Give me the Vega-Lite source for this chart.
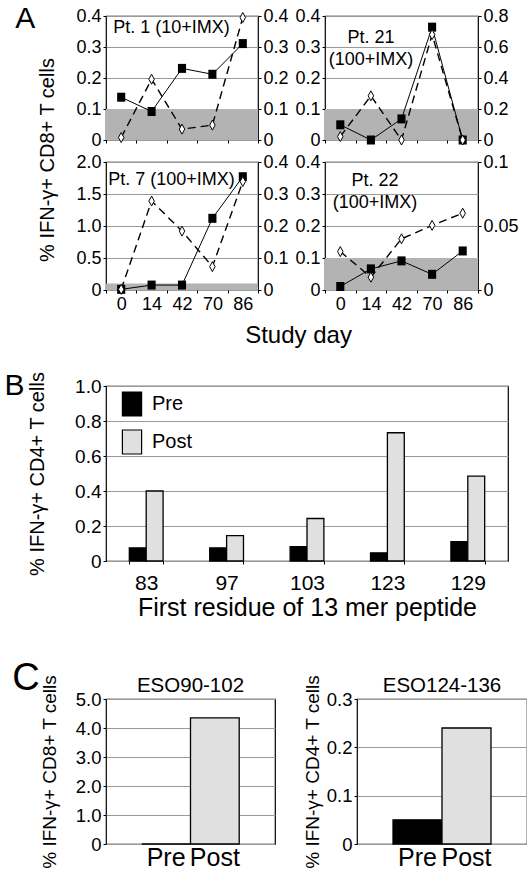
{
"$schema": "https://vega.github.io/schema/vega-lite/v6.json",
"padding": {"left": 3, "top": 4, "right": 0, "bottom": 1},
"config": {
  "font": "Liberation Sans",
  "view": {"stroke": "black", "strokeWidth": 1.2},
  "axis": {"labelColor": "black", "labelFontSize": 18, "tickColor": "black", "domainColor": "black", "gridColor": "#9a9a9a", "gridWidth": 1, "titleColor": "black", "titleFontWeight": "normal", "titleFontSize": 20, "labelPadding": 2, "tickSize": 3, "labelOverlap": false},
  "title": {"color": "black", "fontWeight": "normal", "fontSize": 20},
  "text": {"font": "Liberation Sans", "fontSize": 18, "color": "black"},
  "legend": {"labelColor": "black"}
},
"datasets": {
  "band": [{"lo": 0, "hi": 0.1}],
  "p1": [{"day": 0, "sq": 0.138, "di": 0.008}, {"day": 14, "sq": 0.092, "di": 0.196}, {"day": 42, "sq": 0.231, "di": 0.035}, {"day": 70, "sq": 0.212, "di": 0.048}, {"day": 86, "sq": 0.311, "di": 0.395}],
  "p21": [{"day": 0, "sq": 0.049, "di": 0.022}, {"day": 14, "sq": 0.0, "di": 0.285}, {"day": 42, "sq": 0.068, "di": 0.0}, {"day": 70, "sq": 0.364, "di": 0.68}, {"day": 86, "sq": 0.0, "di": 0.0}],
  "p7": [{"day": 0, "sq": 0.01, "di": 0.002}, {"day": 14, "sq": 0.077, "di": 0.278}, {"day": 42, "sq": 0.077, "di": 0.184}, {"day": 70, "sq": 1.12, "di": 0.073}, {"day": 86, "sq": 1.77, "di": 0.339}],
  "p22": [{"day": 0, "sq": 0.011, "di": 0.030}, {"day": 14, "sq": 0.066, "di": 0.010}, {"day": 42, "sq": 0.091, "di": 0.040}, {"day": 70, "sq": 0.049, "di": 0.0505}, {"day": 86, "sq": 0.122, "di": 0.060}],
  "pepB": [{"res": 83, "when": "Pre", "pct": 0.075}, {"res": 83, "when": "Post", "pct": 0.40}, {"res": 97, "when": "Pre", "pct": 0.075}, {"res": 97, "when": "Post", "pct": 0.145}, {"res": 103, "when": "Pre", "pct": 0.082}, {"res": 103, "when": "Post", "pct": 0.243}, {"res": 123, "when": "Pre", "pct": 0.047}, {"res": 123, "when": "Post", "pct": 0.733}, {"res": 129, "when": "Pre", "pct": 0.11}, {"res": 129, "when": "Post", "pct": 0.485}],
  "c1": [{"when": "Pre", "pct": 0}, {"when": "Post", "pct": 4.35}],
  "c2": [{"when": "Pre", "pct": 0.05}, {"when": "Post", "pct": 0.24}]
},
"spacing": 22,
"resolve": {"scale": {"fill": "independent"}, "legend": {"fill": "independent"}},
"vconcat": [
 {
  "title": {"text": "A", "orient": "left", "anchor": "end", "angle": 0, "align": "left", "baseline": "top", "fontSize": 30, "offset": 3, "dy": -2},
  "vconcat": [{
   "title": {"text": "Study day", "orient": "bottom", "anchor": "middle", "fontSize": 24, "offset": 10, "dx": 20},
   "vconcat": [{
    "title": {"text": "% IFN-γ+ CD8+ T cells", "orient": "left", "anchor": "middle", "fontSize": 20, "offset": 17},
    "spacing": 2,
    "vconcat": [
     {"spacing": 5, "hconcat": [
      {
       "width": 152, "height": 124,
       "layer": [
        {"layer": [
         {"data": {"name": "band"}, "mark": {"type": "rect", "color": "#b3b3b3"}, "encoding": {"y": {"field": "lo", "type": "quantitative", "scale": {"domain": [0, 0.4], "nice": false}, "axis": {"title": null, "values": [0, 0.1, 0.2, 0.3, 0.4], "grid": true, "domain": false, "labelExpr": "datum.value == 0 ? '0' : format(datum.value, '.1f')"}}, "y2": {"field": "hi"}}},
         {"data": {"name": "p1"}, "mark": {"type": "line", "color": "black", "strokeWidth": 1}, "encoding": {"x": {"field": "day", "type": "ordinal", "scale": {"type": "band", "paddingInner": 0, "paddingOuter": 0}, "axis": {"title": null, "labels": false, "tickBand": "extent", "domain": false, "grid": false}}, "y": {"field": "sq", "type": "quantitative", "axis": {"title": null, "values": [0, 0.1, 0.2, 0.3, 0.4], "grid": true, "domain": false, "labelExpr": "datum.value == 0 ? '0' : format(datum.value, '.1f')"}}}},
         {"data": {"name": "p1"}, "mark": {"type": "point", "shape": "M-0.9,-1H0.9V1H-0.9Z", "filled": true, "color": "black", "opacity": 1, "size": 81}, "encoding": {"x": {"field": "day", "type": "ordinal", "axis": {"title": null, "labels": false, "tickBand": "extent", "domain": false, "grid": false}}, "y": {"field": "sq", "type": "quantitative", "axis": {"title": null, "values": [0, 0.1, 0.2, 0.3, 0.4], "grid": true, "domain": false, "labelExpr": "datum.value == 0 ? '0' : format(datum.value, '.1f')"}}}},
         {"data": {"name": "band"}, "mark": {"type": "text", "align": "left", "baseline": "top", "dx": -8, "dy": 3}, "encoding": {"x": {"datum": 0, "type": "ordinal", "axis": {"title": null, "labels": false, "tickBand": "extent", "domain": false, "grid": false}}, "y": {"datum": 0.4, "type": "quantitative", "axis": {"title": null, "values": [0, 0.1, 0.2, 0.3, 0.4], "grid": true, "domain": false, "labelExpr": "datum.value == 0 ? '0' : format(datum.value, '.1f')"}}, "text": {"value": "Pt. 1 (10+IMX)"}}}
        ]},
        {"data": {"name": "p1"}, "layer": [
         {"mark": {"type": "line", "color": "black", "strokeWidth": 1.4, "strokeDash": [8, 5]}, "encoding": {"x": {"field": "day", "type": "ordinal", "axis": {"title": null, "labels": false, "tickBand": "extent", "domain": false, "grid": false}}, "y": {"field": "di", "type": "quantitative", "scale": {"domain": [0, 0.4], "nice": false}, "axis": {"orient": "right", "title": null, "values": [0, 0.1, 0.2, 0.3, 0.4], "grid": false, "domain": false, "labelExpr": "datum.value == 0 ? '0' : format(datum.value, '.1f')"}}}},
         {"mark": {"type": "point", "shape": "M0,-1L0.55,0L0,1L-0.55,0Z", "filled": true, "fill": "white", "stroke": "black", "strokeWidth": 1, "opacity": 1, "size": 100}, "encoding": {"x": {"field": "day", "type": "ordinal", "axis": {"title": null, "labels": false, "tickBand": "extent", "domain": false, "grid": false}}, "y": {"field": "di", "type": "quantitative", "axis": {"orient": "right", "title": null, "values": [0, 0.1, 0.2, 0.3, 0.4], "grid": false, "domain": false, "labelExpr": "datum.value == 0 ? '0' : format(datum.value, '.1f')"}}}}
        ]}
       ],
       "resolve": {"scale": {"y": "independent"}}
      },
      {
       "width": 153, "height": 124,
       "layer": [
        {"layer": [
         {"data": {"name": "band"}, "mark": {"type": "rect", "color": "#b3b3b3"}, "encoding": {"y": {"field": "lo", "type": "quantitative", "scale": {"domain": [0, 0.4], "nice": false}, "axis": {"title": null, "values": [0, 0.1, 0.2, 0.3, 0.4], "grid": true, "domain": false, "labelExpr": "datum.value == 0 ? '0' : format(datum.value, '.1f')"}}, "y2": {"field": "hi"}}},
         {"data": {"name": "p21"}, "mark": {"type": "line", "color": "black", "strokeWidth": 1}, "encoding": {"x": {"field": "day", "type": "ordinal", "scale": {"type": "band", "paddingInner": 0, "paddingOuter": 0}, "axis": {"title": null, "labels": false, "tickBand": "extent", "domain": false, "grid": false}}, "y": {"field": "sq", "type": "quantitative", "axis": {"title": null, "values": [0, 0.1, 0.2, 0.3, 0.4], "grid": true, "domain": false, "labelExpr": "datum.value == 0 ? '0' : format(datum.value, '.1f')"}}}},
         {"data": {"name": "p21"}, "mark": {"type": "point", "shape": "M-0.9,-1H0.9V1H-0.9Z", "filled": true, "color": "black", "opacity": 1, "size": 81}, "encoding": {"x": {"field": "day", "type": "ordinal", "axis": {"title": null, "labels": false, "tickBand": "extent", "domain": false, "grid": false}}, "y": {"field": "sq", "type": "quantitative", "axis": {"title": null, "values": [0, 0.1, 0.2, 0.3, 0.4], "grid": true, "domain": false, "labelExpr": "datum.value == 0 ? '0' : format(datum.value, '.1f')"}}}},
         {"data": {"name": "band"}, "mark": {"type": "text", "align": "center", "baseline": "top", "lineHeight": 22, "dx": 0, "dy": 13}, "encoding": {"x": {"datum": 14, "type": "ordinal", "axis": {"title": null, "labels": false, "tickBand": "extent", "domain": false, "grid": false}}, "y": {"datum": 0.4, "type": "quantitative", "axis": {"title": null, "values": [0, 0.1, 0.2, 0.3, 0.4], "grid": true, "domain": false, "labelExpr": "datum.value == 0 ? '0' : format(datum.value, '.1f')"}}, "text": {"value": ["Pt. 21", "(100+IMX)"]}}}
        ]},
        {"data": {"name": "p21"}, "layer": [
         {"mark": {"type": "line", "color": "black", "strokeWidth": 1.4, "strokeDash": [8, 5]}, "encoding": {"x": {"field": "day", "type": "ordinal", "axis": {"title": null, "labels": false, "tickBand": "extent", "domain": false, "grid": false}}, "y": {"field": "di", "type": "quantitative", "scale": {"domain": [0, 0.8], "nice": false}, "axis": {"orient": "right", "title": null, "values": [0, 0.2, 0.4, 0.6, 0.8], "grid": false, "domain": false, "labelExpr": "datum.value == 0 ? '0' : format(datum.value, '.1f')"}}}},
         {"mark": {"type": "point", "shape": "M0,-1L0.55,0L0,1L-0.55,0Z", "filled": true, "fill": "white", "stroke": "black", "strokeWidth": 1, "opacity": 1, "size": 100}, "encoding": {"x": {"field": "day", "type": "ordinal", "axis": {"title": null, "labels": false, "tickBand": "extent", "domain": false, "grid": false}}, "y": {"field": "di", "type": "quantitative", "axis": {"orient": "right", "title": null, "values": [0, 0.2, 0.4, 0.6, 0.8], "grid": false, "domain": false, "labelExpr": "datum.value == 0 ? '0' : format(datum.value, '.1f')"}}}}
        ]}
       ],
       "resolve": {"scale": {"y": "independent"}}
      }
     ]},
     {"spacing": 5, "hconcat": [
      {
       "width": 152, "height": 128,
       "layer": [
        {"layer": [
         {"data": {"name": "band"}, "mark": {"type": "rect", "color": "#b3b3b3"}, "encoding": {"y": {"field": "lo", "type": "quantitative", "scale": {"domain": [0, 2], "nice": false}, "axis": {"title": null, "values": [0, 0.5, 1, 1.5, 2], "grid": true, "domain": false, "labelExpr": "datum.value == 0 ? '0' : format(datum.value, '.1f')"}}, "y2": {"field": "hi"}}},
         {"data": {"name": "p7"}, "mark": {"type": "line", "color": "black", "strokeWidth": 1}, "encoding": {"x": {"field": "day", "type": "ordinal", "scale": {"type": "band", "paddingInner": 0, "paddingOuter": 0}, "axis": {"title": null, "labelAngle": 0, "tickBand": "extent", "domain": false, "grid": false}}, "y": {"field": "sq", "type": "quantitative", "axis": {"title": null, "values": [0, 0.5, 1, 1.5, 2], "grid": true, "domain": false, "labelExpr": "datum.value == 0 ? '0' : format(datum.value, '.1f')"}}}},
         {"data": {"name": "p7"}, "mark": {"type": "point", "shape": "M-0.9,-1H0.9V1H-0.9Z", "filled": true, "color": "black", "opacity": 1, "size": 81}, "encoding": {"x": {"field": "day", "type": "ordinal", "axis": {"title": null, "labelAngle": 0, "tickBand": "extent", "domain": false, "grid": false}}, "y": {"field": "sq", "type": "quantitative", "axis": {"title": null, "values": [0, 0.5, 1, 1.5, 2], "grid": true, "domain": false, "labelExpr": "datum.value == 0 ? '0' : format(datum.value, '.1f')"}}}},
         {"data": {"name": "band"}, "mark": {"type": "text", "align": "left", "baseline": "top", "dx": -13, "dy": 9}, "encoding": {"x": {"datum": 0, "type": "ordinal", "axis": {"title": null, "labelAngle": 0, "tickBand": "extent", "domain": false, "grid": false}}, "y": {"datum": 2, "type": "quantitative", "axis": {"title": null, "values": [0, 0.5, 1, 1.5, 2], "grid": true, "domain": false, "labelExpr": "datum.value == 0 ? '0' : format(datum.value, '.1f')"}}, "text": {"value": "Pt. 7 (100+IMX)"}}}
        ]},
        {"data": {"name": "p7"}, "layer": [
         {"mark": {"type": "line", "color": "black", "strokeWidth": 1.4, "strokeDash": [8, 5]}, "encoding": {"x": {"field": "day", "type": "ordinal", "axis": {"title": null, "labelAngle": 0, "tickBand": "extent", "domain": false, "grid": false}}, "y": {"field": "di", "type": "quantitative", "scale": {"domain": [0, 0.4], "nice": false}, "axis": {"orient": "right", "title": null, "values": [0, 0.1, 0.2, 0.3, 0.4], "grid": false, "domain": false, "labelExpr": "datum.value == 0 ? '0' : format(datum.value, '.1f')"}}}},
         {"mark": {"type": "point", "shape": "M0,-1L0.55,0L0,1L-0.55,0Z", "filled": true, "fill": "white", "stroke": "black", "strokeWidth": 1, "opacity": 1, "size": 100}, "encoding": {"x": {"field": "day", "type": "ordinal", "axis": {"title": null, "labelAngle": 0, "tickBand": "extent", "domain": false, "grid": false}}, "y": {"field": "di", "type": "quantitative", "axis": {"orient": "right", "title": null, "values": [0, 0.1, 0.2, 0.3, 0.4], "grid": false, "domain": false, "labelExpr": "datum.value == 0 ? '0' : format(datum.value, '.1f')"}}}}
        ]}
       ],
       "resolve": {"scale": {"y": "independent"}}
      },
      {
       "width": 153, "height": 128,
       "layer": [
        {"layer": [
         {"data": {"name": "band"}, "mark": {"type": "rect", "color": "#b3b3b3"}, "encoding": {"y": {"field": "lo", "type": "quantitative", "scale": {"domain": [0, 0.4], "nice": false}, "axis": {"title": null, "values": [0, 0.1, 0.2, 0.3, 0.4], "grid": true, "domain": false, "labelExpr": "datum.value == 0 ? '0' : format(datum.value, '.1f')"}}, "y2": {"field": "hi"}}},
         {"data": {"name": "p22"}, "mark": {"type": "line", "color": "black", "strokeWidth": 1}, "encoding": {"x": {"field": "day", "type": "ordinal", "scale": {"type": "band", "paddingInner": 0, "paddingOuter": 0}, "axis": {"title": null, "labelAngle": 0, "tickBand": "extent", "domain": false, "grid": false}}, "y": {"field": "sq", "type": "quantitative", "axis": {"title": null, "values": [0, 0.1, 0.2, 0.3, 0.4], "grid": true, "domain": false, "labelExpr": "datum.value == 0 ? '0' : format(datum.value, '.1f')"}}}},
         {"data": {"name": "p22"}, "mark": {"type": "point", "shape": "M-0.9,-1H0.9V1H-0.9Z", "filled": true, "color": "black", "opacity": 1, "size": 81}, "encoding": {"x": {"field": "day", "type": "ordinal", "axis": {"title": null, "labelAngle": 0, "tickBand": "extent", "domain": false, "grid": false}}, "y": {"field": "sq", "type": "quantitative", "axis": {"title": null, "values": [0, 0.1, 0.2, 0.3, 0.4], "grid": true, "domain": false, "labelExpr": "datum.value == 0 ? '0' : format(datum.value, '.1f')"}}}},
         {"data": {"name": "band"}, "mark": {"type": "text", "align": "center", "baseline": "top", "lineHeight": 22, "dx": 4, "dy": 10}, "encoding": {"x": {"datum": 14, "type": "ordinal", "axis": {"title": null, "labelAngle": 0, "tickBand": "extent", "domain": false, "grid": false}}, "y": {"datum": 0.4, "type": "quantitative", "axis": {"title": null, "values": [0, 0.1, 0.2, 0.3, 0.4], "grid": true, "domain": false, "labelExpr": "datum.value == 0 ? '0' : format(datum.value, '.1f')"}}, "text": {"value": ["Pt. 22", "(100+IMX)"]}}}
        ]},
        {"data": {"name": "p22"}, "layer": [
         {"mark": {"type": "line", "color": "black", "strokeWidth": 1.4, "strokeDash": [8, 5]}, "encoding": {"x": {"field": "day", "type": "ordinal", "axis": {"title": null, "labelAngle": 0, "tickBand": "extent", "domain": false, "grid": false}}, "y": {"field": "di", "type": "quantitative", "scale": {"domain": [0, 0.1], "nice": false}, "axis": {"orient": "right", "title": null, "values": [0, 0.05, 0.1], "grid": false, "domain": false, "labelExpr": "datum.value == 0 ? '0' : format(datum.value, '~g')"}}}},
         {"mark": {"type": "point", "shape": "M0,-1L0.55,0L0,1L-0.55,0Z", "filled": true, "fill": "white", "stroke": "black", "strokeWidth": 1, "opacity": 1, "size": 100}, "encoding": {"x": {"field": "day", "type": "ordinal", "axis": {"title": null, "labelAngle": 0, "tickBand": "extent", "domain": false, "grid": false}}, "y": {"field": "di", "type": "quantitative", "axis": {"orient": "right", "title": null, "values": [0, 0.05, 0.1], "grid": false, "domain": false, "labelExpr": "datum.value == 0 ? '0' : format(datum.value, '~g')"}}}}
        ]}
       ],
       "resolve": {"scale": {"y": "independent"}}
      }
     ]}
    ]
   }]
  }]
 },
 {
  "spacing": 38,
  "resolve": {"scale": {"fill": "independent"}, "legend": {"fill": "independent"}},
  "vconcat": [
   {
    "title": {"text": "B", "orient": "left", "anchor": "end", "angle": 0, "align": "left", "baseline": "top", "fontSize": 30, "offset": 3},
    "width": 402, "height": 175,
    "data": {"name": "pepB"},
    "mark": {"type": "bar", "stroke": "black", "strokeWidth": 1.3},
    "encoding": {
     "x": {"field": "res", "type": "ordinal", "scale": {"paddingInner": 0.58, "paddingOuter": 0.29}, "axis": {"title": "First residue of 13 mer peptide", "titleFontSize": 25, "labelFontSize": 21, "labelAngle": 0, "tickBand": "extent", "labelPadding": 8, "domain": false, "titlePadding": 2}},
     "xOffset": {"field": "when", "type": "nominal", "sort": ["Pre", "Post"], "scale": {"paddingInner": 0, "paddingOuter": 0}},
     "y": {"field": "pct", "type": "quantitative", "scale": {"domain": [0, 1], "nice": false}, "axis": {"title": "% IFN-γ+ CD4+ T cells", "values": [0, 0.2, 0.4, 0.6, 0.8, 1], "labelFontSize": 19, "grid": true, "domain": false, "titlePadding": 27, "labelExpr": "datum.value == 0 ? '0' : format(datum.value, '.1f')"}},
     "fill": {"field": "when", "type": "nominal", "sort": ["Pre", "Post"], "scale": {"domain": ["Pre", "Post"], "range": ["black", "#e0e0e0"]}, "legend": {"title": null, "orient": "none", "legendX": 13, "legendY": 5, "symbolType": "M-0.8,-1H0.8V1H-0.8Z", "symbolSize": 576, "symbolStrokeColor": "black", "symbolStrokeWidth": 1.2, "labelFontSize": 20, "rowPadding": 8, "padding": 0, "labelOffset": 7}}
    }
   },
   {
    "title": {"text": "C", "orient": "left", "anchor": "end", "angle": 0, "align": "left", "baseline": "top", "fontSize": 38, "offset": 0, "dy": -14},
    "spacing": 26,
    "hconcat": [
     {
      "width": 169, "height": 145,
      "title": {"text": "ESO90-102", "fontSize": 20.5, "offset": 3, "dy": 25, "frame": "group"},
      "data": {"name": "c1"},
      "mark": {"type": "bar", "stroke": "black", "strokeWidth": 1.3},
      "encoding": {
       "x": {"field": "when", "type": "nominal", "sort": ["Pre", "Post"], "scale": {"paddingInner": 0, "paddingOuter": 0.735}, "axis": {"title": null, "labelAngle": 0, "labelFontSize": 25, "ticks": false, "domain": false, "labelPadding": 1}},
       "y": {"field": "pct", "type": "quantitative", "scale": {"domain": [0, 5], "nice": false}, "axis": {"title": "% IFN-γ+ CD8+ T cells", "titleFontSize": 19, "titlePadding": 16, "values": [0, 1, 2, 3, 4, 5], "grid": true, "domain": false, "labelFontSize": 18.5, "labelExpr": "datum.value == 0 ? '0' : format(datum.value, '.1f')"}},
       "fill": {"field": "when", "type": "nominal", "scale": {"domain": ["Pre", "Post"], "range": ["black", "#e0e0e0"]}, "legend": null}
      }
     },
     {
      "width": 170, "height": 145,
      "title": {"text": "ESO124-136", "fontSize": 20.5, "offset": 3, "dy": 25, "frame": "group"},
      "data": {"name": "c2"},
      "mark": {"type": "bar", "stroke": "black", "strokeWidth": 1.3},
      "encoding": {
       "x": {"field": "when", "type": "nominal", "sort": ["Pre", "Post"], "scale": {"paddingInner": 0, "paddingOuter": 0.735}, "axis": {"title": null, "labelAngle": 0, "labelFontSize": 25, "ticks": false, "domain": false, "labelPadding": 1}},
       "y": {"field": "pct", "type": "quantitative", "scale": {"domain": [0, 0.3], "nice": false}, "axis": {"title": "% IFN-γ+ CD4+ T cells", "titleFontSize": 19, "titlePadding": 4, "values": [0, 0.1, 0.2, 0.3], "grid": true, "domain": false, "labelFontSize": 18.5, "labelExpr": "datum.value == 0 ? '0' : format(datum.value, '.1f')"}},
       "fill": {"field": "when", "type": "nominal", "scale": {"domain": ["Pre", "Post"], "range": ["black", "#e0e0e0"]}, "legend": null}
      }
     }
    ]
   }
  ]
 }
]
}
